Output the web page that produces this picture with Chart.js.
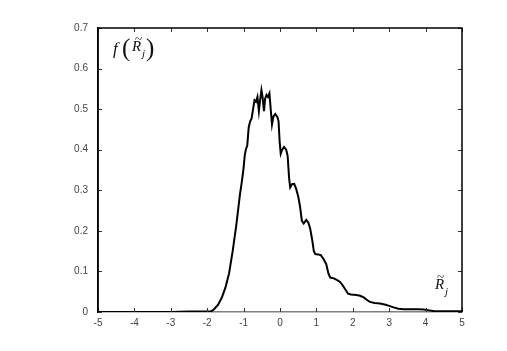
<!DOCTYPE html>
<html>
<head>
<meta charset="utf-8">
<script src="https://cdn.jsdelivr.net/npm/chart.js@4"></script>
<style>
html,body{margin:0;padding:0;background:#fff;}
#wrap{width:507px;height:351px;position:relative;}
</style>
</head>
<body>
<div id="wrap"><canvas id="c" width="507" height="351"></canvas></div>
<script>
const xValues = [-5,-3,-2.5,-2.2,-2.0,-1.9,-1.85,-1.8,-1.7,-1.6,-1.5,-1.4,-1.3,-1.2,-1.1,-1.05,-1.0,-0.97,-0.94,-0.9,-0.86,-0.82,-0.78,-0.74,-0.70,-0.66,-0.62,-0.58,-0.55,-0.51,-0.48,-0.44,-0.41,-0.37,-0.33,-0.29,-0.26,-0.22,-0.18,-0.13,-0.07,-0.04,-0.01,0.02,0.06,0.11,0.17,0.21,0.25,0.28,0.33,0.39,0.44,0.50,0.55,0.60,0.65,0.72,0.78,0.83,0.88,0.93,0.97,1.05,1.12,1.2,1.27,1.33,1.38,1.48,1.56,1.65,1.72,1.80,1.87,1.95,2.1,2.2,2.3,2.4,2.47,2.6,2.75,2.9,3.0,3.1,3.25,3.4,3.6,3.8,3.95,4.1,4.25,4.5,5];
const densityValues = [0,0,0.001,0.001,0.001,0.002,0.004,0.008,0.018,0.035,0.06,0.095,0.15,0.215,0.29,0.32,0.355,0.385,0.400,0.41,0.455,0.47,0.477,0.50,0.522,0.518,0.530,0.495,0.520,0.547,0.530,0.495,0.525,0.535,0.530,0.539,0.505,0.462,0.482,0.488,0.480,0.47,0.42,0.39,0.40,0.407,0.40,0.385,0.33,0.307,0.315,0.316,0.305,0.285,0.26,0.225,0.218,0.227,0.22,0.205,0.18,0.15,0.143,0.142,0.14,0.13,0.118,0.095,0.085,0.083,0.079,0.074,0.066,0.055,0.045,0.043,0.042,0.040,0.036,0.029,0.025,0.022,0.021,0.018,0.015,0.012,0.008,0.007,0.007,0.007,0.006,0.004,0.002,0.002,0.002];
const xTicks = [-5,-4,-3,-2,-1,0,1,2,3,4,5];
const yTicks = [0,0.1,0.2,0.3,0.4,0.5,0.6,0.7];

const points = xValues.map((x,i)=>({x:x,y:densityValues[i]}));

const boxPlugin = {
  id:'box',
  afterDraw(chart){
    const ctx = chart.ctx, a = chart.chartArea;
    const xs = chart.scales.x, ys = chart.scales.y;
    ctx.save();
    ctx.strokeStyle = '#333';
    ctx.lineWidth = 1;
    const tl = 4;
    xTicks.forEach(v=>{
      const px = Math.round(xs.getPixelForValue(v))+0.5;
      ctx.beginPath();
      ctx.moveTo(px,a.bottom); ctx.lineTo(px,a.bottom-tl);
      ctx.moveTo(px,a.top); ctx.lineTo(px,a.top+tl);
      ctx.stroke();
    });
    yTicks.forEach(v=>{
      const py = Math.round(ys.getPixelForValue(v))+0.5;
      ctx.beginPath();
      ctx.moveTo(a.left,py); ctx.lineTo(a.left+tl,py);
      ctx.moveTo(a.right,py); ctx.lineTo(a.right-tl,py);
      ctx.stroke();
    });
    ctx.strokeStyle = '#000';
    ctx.lineWidth = 1.5;
    ctx.beginPath();
    ctx.moveTo(a.left, a.bottom); ctx.lineTo(a.left, a.top);
    ctx.lineTo(a.right, a.top); ctx.lineTo(a.right, a.bottom);
    ctx.stroke();
    ctx.restore();

    ctx.save();
    ctx.fillStyle = '#111';
    ctx.textBaseline = 'alphabetic';
    ctx.font = 'italic 17px "Liberation Serif"';
    ctx.fillText('f', 113, 54);
    ctx.font = '25px "Liberation Serif"';
    ctx.fillText('(', 122, 56);
    ctx.fillText(')', 146, 56);
    ctx.font = 'italic 15px "Liberation Serif"';
    ctx.fillText('R', 132, 51);
    ctx.font = '13px "Liberation Serif"';
    ctx.fillText('~', 135, 43);
    ctx.font = 'italic 11px "Liberation Serif"';
    ctx.fillText('j', 142, 57);

    ctx.font = 'italic 15px "Liberation Serif"';
    ctx.fillText('R', 435, 289);
    ctx.font = '13px "Liberation Serif"';
    ctx.fillText('~', 437, 281);
    ctx.font = 'italic 11px "Liberation Serif"';
    ctx.fillText('j', 445, 295);
    ctx.restore();
  }
};

new Chart(document.getElementById('c'), {
  type:'scatter',
  data:{
    datasets:[{
      data:points,
      showLine:true,
      borderColor:'#000',
      borderWidth:2,
      pointRadius:0,
      tension:0,
      fill:false
    }]
  },
  options:{
    responsive:false,
    animation:false,
    devicePixelRatio:1,
    layout:{padding:{top:28,right:45,left:0,bottom:0}},
    plugins:{legend:{display:false},tooltip:{enabled:false},title:{display:false}},
    scales:{
      x:{
        type:'linear', min:-5, max:5,
        afterFit(s){ s.height = 39; },
        afterBuildTicks(s){ s.ticks = xTicks.map(v=>({value:v})); },
        grid:{display:false, drawTicks:false},
        border:{display:true, color:'#808080', width:1.5},
        ticks:{padding:5, color:'#444', font:{family:'"Liberation Sans"', size:10}, maxRotation:0,
               callback:v=>String(v)}
      },
      y:{
        type:'linear', min:0, max:0.7,
        afterFit(s){ s.width = 98; },
        afterBuildTicks(s){ s.ticks = yTicks.map(v=>({value:v})); },
        grid:{display:false, drawTicks:false},
        border:{display:true, color:'#000', width:1.5},
        ticks:{padding:10, color:'#444', font:{family:'"Liberation Sans"', size:10},
               callback:v=>String(Math.round(v*10)/10)}
      }
    }
  },
  plugins:[boxPlugin]
});
</script>
</body>
</html>
